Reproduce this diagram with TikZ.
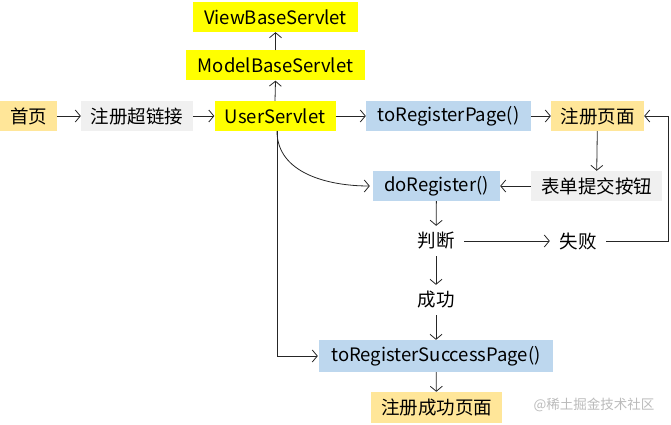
\documentclass[tikz,border=0pt]{standalone}
\usepackage{fontspec}
\setmainfont{Noto Sans CJK SC}
\usetikzlibrary{arrows.meta}
\definecolor{cyel}{HTML}{FFFF00}
\definecolor{cblue}{HTML}{BDD7EE}
\definecolor{corg}{HTML}{FFE699}
\definecolor{cgray}{HTML}{F0F0F0}
\definecolor{cwm}{HTML}{BBBBBB}
\begin{document}
\begin{tikzpicture}[x=1pt,y=-1pt,
  every node/.style={font=\fontsize{18.5}{20}\selectfont, inner sep=0pt, minimum height=30pt, anchor=center},
  ybox/.style={fill=cyel},
  bbox/.style={fill=cblue},
  obox/.style={fill=corg},
  gbox/.style={fill=cgray},
  plain/.style={},
  conn/.style={draw=black!85, line width=0.8pt, -{Straight Barb[length=5pt,width=12pt]}}
]
\useasboundingbox (0,0) rectangle (671,425);
\node[obox, minimum width=57pt] (home) at (28.5,116) {首页};
\node[gbox, minimum width=112pt] (link) at (137,116) {注册超链接};
\node[ybox, minimum width=121pt] (us) at (275,116) {UserServlet};
\node[bbox, minimum width=165pt] (trp) at (448.5,116) {toRegisterPage()};
\node[obox, minimum width=93pt] (rp) at (597.5,116) {注册页面};
\node[ybox, minimum width=179pt] (mbs) at (275.5,65.5) {ModelBaseServlet};
\node[ybox, minimum width=165pt] (vbs) at (275.5,17) {ViewBaseServlet};
\node[bbox, minimum width=127pt] (dr) at (436.5,186) {doRegister()};
\node[gbox, minimum width=131pt] (btn) at (596.5,186) {表单提交按钮};
\node[plain, minimum width=56pt] (judge) at (436,241) {判断};
\node[plain, minimum width=56pt] (fail) at (578,241) {失败};
\node[plain, minimum width=56pt] (ok) at (436,300) {成功};
\node[bbox, minimum width=234pt, minimum height=32pt] (trsp) at (436,356) {toRegisterSuccessPage()};
\node[obox, minimum width=131pt, minimum height=31pt] (sp) at (436.5,407.5) {注册成功页面};
\node[text=cwm, font=\fontsize{13.5}{15}\selectfont, minimum height=0pt] (wm) at (594,405) {@稀土掘金技术社区};
\coordinate (c1) at (668,241);
\coordinate (c2) at (668,116);
\coordinate (usb) at (277,131);
\coordinate (c3) at (277,356);

\draw[conn] (home) -- (link);
\draw[conn] (link) -- (us);
\draw[conn] (us) -- (trp);
\draw[conn] (trp) -- (rp);
\draw[conn] (us.north) -- (mbs.south);
\draw[conn] (mbs.north) -- (vbs.south);
\draw[conn] (rp) -- (btn);
\draw[conn] (btn) -- (dr);
\draw[conn] (usb) to[out=-90,in=180] ([xshift=-3pt]dr.west);
\draw[conn] (usb) -- (c3) -- ([xshift=-1pt]trsp.west);
\draw[conn] (dr) -- (judge);
\draw[conn] (judge) -- (fail);
\draw[conn] (fail) -- (c1) -- (c2) -- (rp.east);
\draw[conn] (judge) -- (ok);
\draw[conn] (ok) -- (trsp);
\draw[conn] (trsp) -- (sp);
\end{tikzpicture}
\end{document}
